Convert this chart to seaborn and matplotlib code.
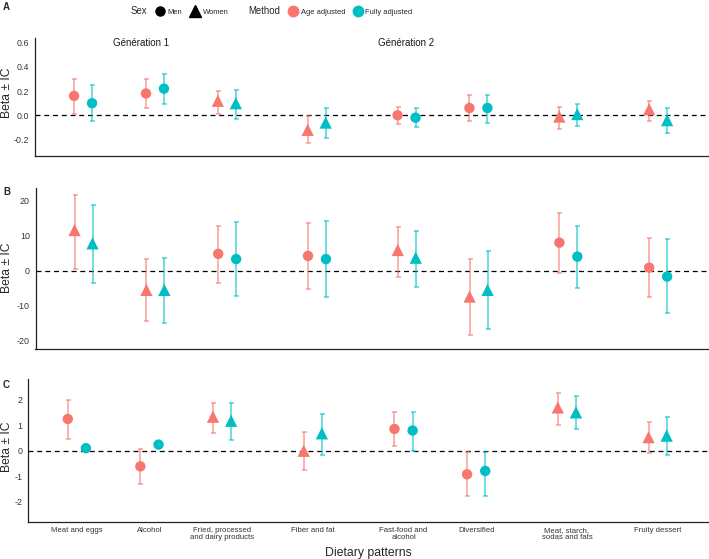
import matplotlib
matplotlib.use('Agg')
import matplotlib.pyplot as plt
from matplotlib.lines import Line2D
import pandas as pd
import seaborn as sns


# categories
patterns = ['Meat and eggs', 'Alcohol', 'Fried, processed\nand dairy products', 'Fiber and fat',
            'Fast-food and\nalcohol', 'Diversified', 'Meat, starch,\nsodas and fats', 'Fruity dessert']
methods = ['Age adjusted', 'Fully adjusted']

# panel A (Génération 1 / 2)
sex_A = ['Men', 'Men', 'Women', 'Women', 'Men', 'Men', 'Women', 'Women']
age_A = [0.16, 0.18, 0.12, -0.12, 0.00, 0.06, -0.01, 0.05]
age_lo_A = [0.01, 0.06, 0.01, -0.23, -0.07, -0.05, -0.11, -0.05]
age_hi_A = [0.30, 0.30, 0.20, -0.01, 0.07, 0.17, 0.07, 0.12]
full_A = [0.10, 0.22, 0.10, -0.06, -0.02, 0.06, 0.01, -0.04]
full_lo_A = [-0.05, 0.09, -0.03, -0.19, -0.10, -0.06, -0.09, -0.15]
full_hi_A = [0.25, 0.34, 0.21, 0.06, 0.06, 0.17, 0.09, 0.06]

# panel B
sex_B = ['Women', 'Women', 'Men', 'Men', 'Women', 'Women', 'Men', 'Men']
age_B = [11.7, -5.4, 4.9, 4.3, 6.0, -7.3, 8.1, 0.95]
age_lo_B = [0.5, -14.3, -3.3, -5.2, -1.6, -18.3, -0.7, -7.5]
age_hi_B = [21.7, 3.3, 12.9, 13.8, 12.7, 3.3, 16.7, 9.5]
full_B = [7.9, -5.4, 3.4, 3.4, 3.8, -5.4, 4.1, -1.6]
full_lo_B = [-3.3, -14.8, -7.1, -7.4, -4.5, -16.7, -4.8, -12.1]
full_hi_B = [18.9, 3.8, 14.1, 14.3, 11.5, 5.7, 12.9, 9.1]

# panel C
sex_C = ['Men', 'Men', 'Women', 'Women', 'Men', 'Men', 'Women', 'Women']
age_C = [1.24, -0.61, 1.33, 0.00, 0.85, -0.92, 1.69, 0.53]
age_lo_C = [0.46, -1.28, 0.68, -0.76, 0.20, -1.77, 1.02, -0.09]
age_hi_C = [1.98, 0.08, 1.86, 0.72, 1.52, -0.03, 2.27, 1.11]
full_C = [0.10, 0.24, 1.17, 0.68, 0.79, -0.79, 1.50, 0.59]
full_lo_C = [0.06, 0.20, 0.40, -0.16, -0.01, -1.77, 0.85, -0.16]
full_hi_C = [0.14, 0.28, 1.88, 1.43, 1.53, -0.03, 2.12, 1.30]

ticks_A = [-0.2, 0.0, 0.2, 0.4, 0.6]
ticks_B = [-20, -10, 0, 10, 20]
ticks_C = [-2, -1, 0, 1, 2]


# layout / style
sns.set_style('white')
plt.rcParams['font.family'] = ['Liberation Sans', 'DejaVu Sans']

colors = {'Age adjusted': '#F8766D', 'Fully adjusted': '#00BFC4'}
shapes = {'Men': 'o', 'Women': '^'}
msizes = {'Men': 56, 'Women': 78}
x_pos = [0, 0.8, 1.6, 2.6, 3.6, 4.4, 5.4, 6.4]
dodge = {'Age adjusted': -0.1, 'Fully adjusted': 0.1}


def make_df(sex, age, age_lo, age_hi, full, full_lo, full_hi):
    parts = []
    for m, b, lo, hi in [('Age adjusted', age, age_lo, age_hi),
                         ('Fully adjusted', full, full_lo, full_hi)]:
        parts.append(pd.DataFrame({'pattern': patterns, 'sex': sex, 'method': m,
                                   'beta': b, 'lo': lo, 'hi': hi}))
    df = pd.concat(parts, ignore_index=True)
    df['x'] = df.pattern.map(dict(zip(patterns, x_pos))) + df.method.map(dodge)
    return df


# (letter, data, [left, top, bottom] in px, ylim, yticks, tick format, ylabel centre px)
panels = [
    ('A', make_df(sex_A, age_A, age_lo_A, age_hi_A, full_A, full_lo_A, full_hi_A),
     [35, 38.3, 155.7], (-0.334, 0.636), ticks_A, '{:.1f}', 93),
    ('B', make_df(sex_B, age_B, age_lo_B, age_hi_B, full_B, full_lo_B, full_hi_B),
     [35.5, 187.7, 349], (-22.3, 23.8), ticks_B, '{:.0f}', 268),
    ('C', make_df(sex_C, age_C, age_lo_C, age_hi_C, full_C, full_lo_C, full_hi_C),
     [28.3, 379, 521.7], (-2.77, 2.8), ticks_C, '{:.0f}', 447),
]

W, H = 709, 559
fig = plt.figure(figsize=(W / 100, H / 100), dpi=100)

for letter, df, (left, top, bottom), ylim, yticks, fmt, ylab_y in panels:
    ax = fig.add_axes([left / W, 1 - bottom / H, (708 - left) / W, (bottom - top) / H])

    ax.axhline(0, color='black', lw=0.9, ls=(0, (4, 3)), zorder=1)

    # error bars
    for m in methods:
        d = df[df.method == m]
        ax.errorbar(d.x, d.beta, yerr=[d.beta - d.lo, d.hi - d.beta], fmt='none',
                    ecolor=colors[m], alpha=0.7, elinewidth=1.1, capsize=1.8,
                    capthick=1.1, zorder=2)

    # points
    sns.scatterplot(data=df, x='x', y='beta', hue='method', style='sex', size='sex',
                    palette=colors, markers=shapes, sizes=msizes, hue_order=methods,
                    linewidth=0, legend=False, ax=ax, zorder=3)

    ax.set_xlim(-0.535, 6.955)
    ax.set_ylim(*ylim)
    ax.set_yticks(yticks, [fmt.format(t) for t in yticks])
    ax.set_xticks(x_pos)
    if letter == 'C':
        ax.set_xticklabels(patterns, fontsize=5.6, linespacing=1.0)
        ax.set_xlabel('Dietary patterns', fontsize=8.8, labelpad=4)
    else:
        ax.set_xticklabels([])
        ax.set_xlabel('')

    ax.set_ylabel('Beta ± IC', fontsize=8.7)
    ax.yaxis.set_label_coords(13.5 / W, 1 - ylab_y / H, transform=fig.transFigure)

    for s in ['top', 'right']:
        ax.spines[s].set_visible(False)
    for s in ['left', 'bottom']:
        ax.spines[s].set_color('#222222')
        ax.spines[s].set_linewidth(0.9)
    ax.tick_params(axis='both', length=2.5, width=0.8, color='#333333', labelcolor='#333333', pad=1.5)
    ax.tick_params(axis='y', labelsize=6.4)

    if letter == 'A':
        ax.text(0.64, 0.6, 'Génération 1', ha='center', va='center', fontsize=7.0, color='#1a1a1a')
        ax.text(3.6, 0.6, 'Génération 2', ha='center', va='center', fontsize=7.0, color='#1a1a1a')

# panel letters
for letter, y in [('A', 7), ('B', 192), ('C', 385)]:
    fig.text(3 / W, 1 - y / H, letter, ha='left', va='center', fontsize=7, fontweight='bold')

# legend
blank = Line2D([], [], linestyle='none')
handles = [
    blank,
    Line2D([], [], linestyle='none', marker='o', color='black', markersize=6.5),
    Line2D([], [], linestyle='none', marker='^', color='black', markersize=8),
    blank,
    Line2D([], [], linestyle='none', marker='o', color=colors['Age adjusted'], markersize=7.5),
    Line2D([], [], linestyle='none', marker='o', color=colors['Fully adjusted'], markersize=7.5),
]
labels = ['Sex', 'Men', 'Women', 'Method', 'Age adjusted', 'Fully adjusted']
leg = fig.legend(handles, labels, loc='center', bbox_to_anchor=(266 / W, 1 - 11 / H), ncol=6,
                 frameon=False, handlelength=1.0, handletextpad=0.5, columnspacing=1.2,
                 prop={'size': 5.4})
for t in leg.get_texts():
    if t.get_text() in ('Sex', 'Method'):
        t.set_fontsize(6.9)

fig.savefig('out.png', dpi=100)
